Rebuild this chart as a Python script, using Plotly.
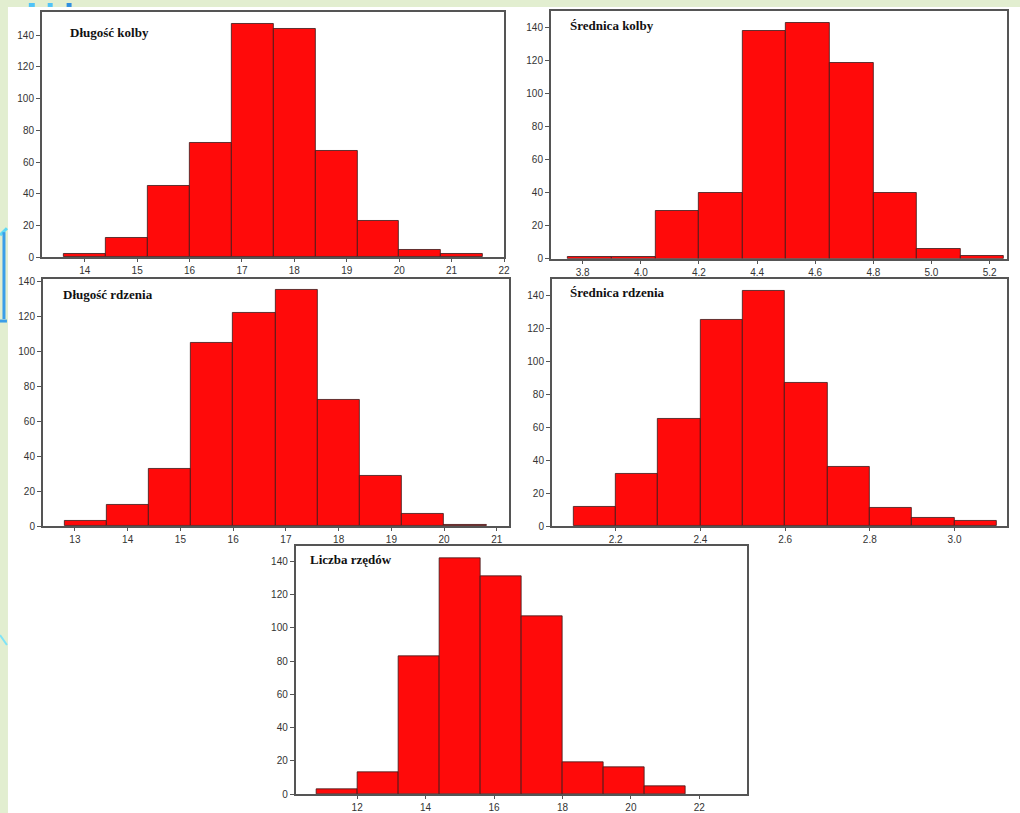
import numpy as np
import plotly.graph_objects as go

W, H = 1020, 813

# ---------------- data ----------------
titles = ["Długość kolby", "Średnica kolby", "Długość rdzenia", "Średnica rdzenia", "Liczba rzędów"]

dk_start, dk_width = 13.6, 0.8
dk_counts = [2, 12, 45, 72, 147, 144, 67, 23, 5, 2]

sk_start, sk_width = 3.75, 0.15
sk_counts = [1, 1, 29, 40, 138, 143, 119, 40, 6, 2]

dr_start, dr_width = 12.8, 0.8
dr_counts = [3, 12, 33, 105, 122, 135, 72, 29, 7, 1]

sr_start, sr_width = 2.1, 0.1
sr_counts = [12, 32, 65, 125, 143, 87, 36, 11, 5, 3]

lr_start, lr_width = 10.8, 1.2
lr_counts = [3, 13, 83, 142, 131, 107, 19, 16, 5]

x_ticks = [
    [14, 15, 16, 17, 18, 19, 20, 21, 22],
    [3.8, 4.0, 4.2, 4.4, 4.6, 4.8, 5.0, 5.2],
    [13, 14, 15, 16, 17, 18, 19, 20, 21],
    [2.2, 2.4, 2.6, 2.8, 3.0],
    [12, 14, 16, 18, 20, 22],
]
y_ticks = [0, 20, 40, 60, 80, 100, 120, 140]

# ---------------- layout (pixels) ----------------
panels = [
    dict(box=(42, 9, 507, 257.5), xr=[13.18, 22.0], yr=[0, 154.6], fmt=None, title_xy=(68, 30)),
    dict(box=(554, 8, 1013, 259), xr=[3.69, 5.26], yr=[0, 150.2], fmt=".1f", title_xy=(571, 23)),
    dict(box=(43, 279.3, 512, 529.7), xr=[12.39, 21.23], yr=[0, 141.5], fmt=None, title_xy=(61, 295)),
    dict(box=(555, 279.3, 1013, 529.7), xr=[2.049, 3.124], yr=[0, 150], fmt=".1f", title_xy=(571, 293.5)),
    dict(box=(297.3, 550, 751.7, 801), xr=[10.2, 23.4], yr=[0, 149], fmt=None, title_xy=(310, 563)),
]
series = [
    (dk_start, dk_width, dk_counts),
    (sk_start, sk_width, sk_counts),
    (dr_start, dr_width, dr_counts),
    (sr_start, sr_width, sr_counts),
    (lr_start, lr_width, lr_counts),
]

fig = go.Figure()
annotations = []
AX = "#555555"
for i, (p, (s, w, c)) in enumerate(zip(panels, series)):
    n = "" if i == 0 else str(i + 1)
    centers = s + w * (np.arange(len(c)) + 0.5)
    fig.add_trace(go.Bar(
        x=centers, y=c, width=w,
        marker=dict(color="#ff0a0a", line=dict(color="#3a1a1a", width=0.8)),
        xaxis="x" + n, yaxis="y" + n, showlegend=False,
    ))
    x0, y0, x1, y1 = p["box"]
    xa = dict(domain=[x0 / W, x1 / W], range=p["xr"], anchor="y" + n,
              tickvals=x_ticks[i], showline=True, linecolor=AX, linewidth=1.5,
              mirror=True, ticks="outside", ticklen=3, tickcolor=AX, tickwidth=1,
              showgrid=False, zeroline=False,
              tickfont=dict(family="Liberation Sans, Arial", size=10, color="#333333"))
    if p["fmt"]:
        xa["tickformat"] = p["fmt"]
    ya = dict(domain=[1 - y1 / H, 1 - y0 / H], range=p["yr"], anchor="x" + n,
              tickvals=y_ticks, showline=True, linecolor=AX, linewidth=1.5,
              mirror=True, ticks="outside", ticklen=4, tickcolor=AX, tickwidth=1,
              showgrid=False, zeroline=False,
              tickfont=dict(family="Liberation Sans, Arial", size=10, color="#333333"))
    fig.update_layout({"xaxis" + n: xa, "yaxis" + n: ya})
    tx, ty = p["title_xy"]
    annotations.append(dict(
        text="<b>" + titles[i] + "</b>", xref="paper", yref="paper",
        x=tx / W, y=1 - ty / H, xanchor="left", yanchor="middle", showarrow=False,
        font=dict(family="Liberation Serif, Times New Roman", size=13, color="#111111"),
    ))

shapes = [
    # white sheet over light green background
    dict(type="rect", xref="paper", yref="paper", x0=8 / W, x1=1.05, y0=-0.05, y1=1 - 4 / H,
         fillcolor="white", line=dict(width=0), layer="below"),
    # decorative blue marks in the margins
    dict(type="rect", xref="paper", yref="paper", x0=29 / W, x1=35 / W, y0=1 - 4 / H, y1=1,
         fillcolor="#4fc3f7", line=dict(width=0), layer="below"),
    dict(type="rect", xref="paper", yref="paper", x0=48 / W, x1=53 / W, y0=1 - 4 / H, y1=1,
         fillcolor="#4fc3f7", line=dict(width=0), layer="below"),
    dict(type="rect", xref="paper", yref="paper", x0=67 / W, x1=72 / W, y0=1 - 4 / H, y1=1,
         fillcolor="#2e8ee0", line=dict(width=0), layer="below"),
    dict(type="line", xref="paper", yref="paper", x0=0, x1=7 / W, y0=1 - 235 / H, y1=1 - 228 / H,
         line=dict(color="#5fd8f5", width=3), layer="below"),
    dict(type="line", xref="paper", yref="paper", x0=4 / W, x1=4 / W, y0=1 - 320 / H, y1=1 - 232 / H,
         line=dict(color="#3a9ee8", width=3), layer="below"),
    dict(type="line", xref="paper", yref="paper", x0=0, x1=7 / W, y0=1 - 322 / H, y1=1 - 322 / H,
         line=dict(color="#3a9ee8", width=3), layer="below"),
    dict(type="line", xref="paper", yref="paper", x0=0, x1=7 / W, y0=1 - 640 / H, y1=1 - 650 / H,
         line=dict(color="#7fe3f7", width=2), layer="below"),
]

fig.update_layout(
    width=W, height=H,
    margin=dict(l=0, r=0, t=0, b=0),
    paper_bgcolor="#e2eed0",
    plot_bgcolor="white",
    bargap=0,
    annotations=annotations,
    shapes=shapes,
)

fig.write_html(
    "out.html",
    config={"displayModeBar": False},
    post_script="document.body.style.margin='0';document.body.style.overflow='hidden';",
)
